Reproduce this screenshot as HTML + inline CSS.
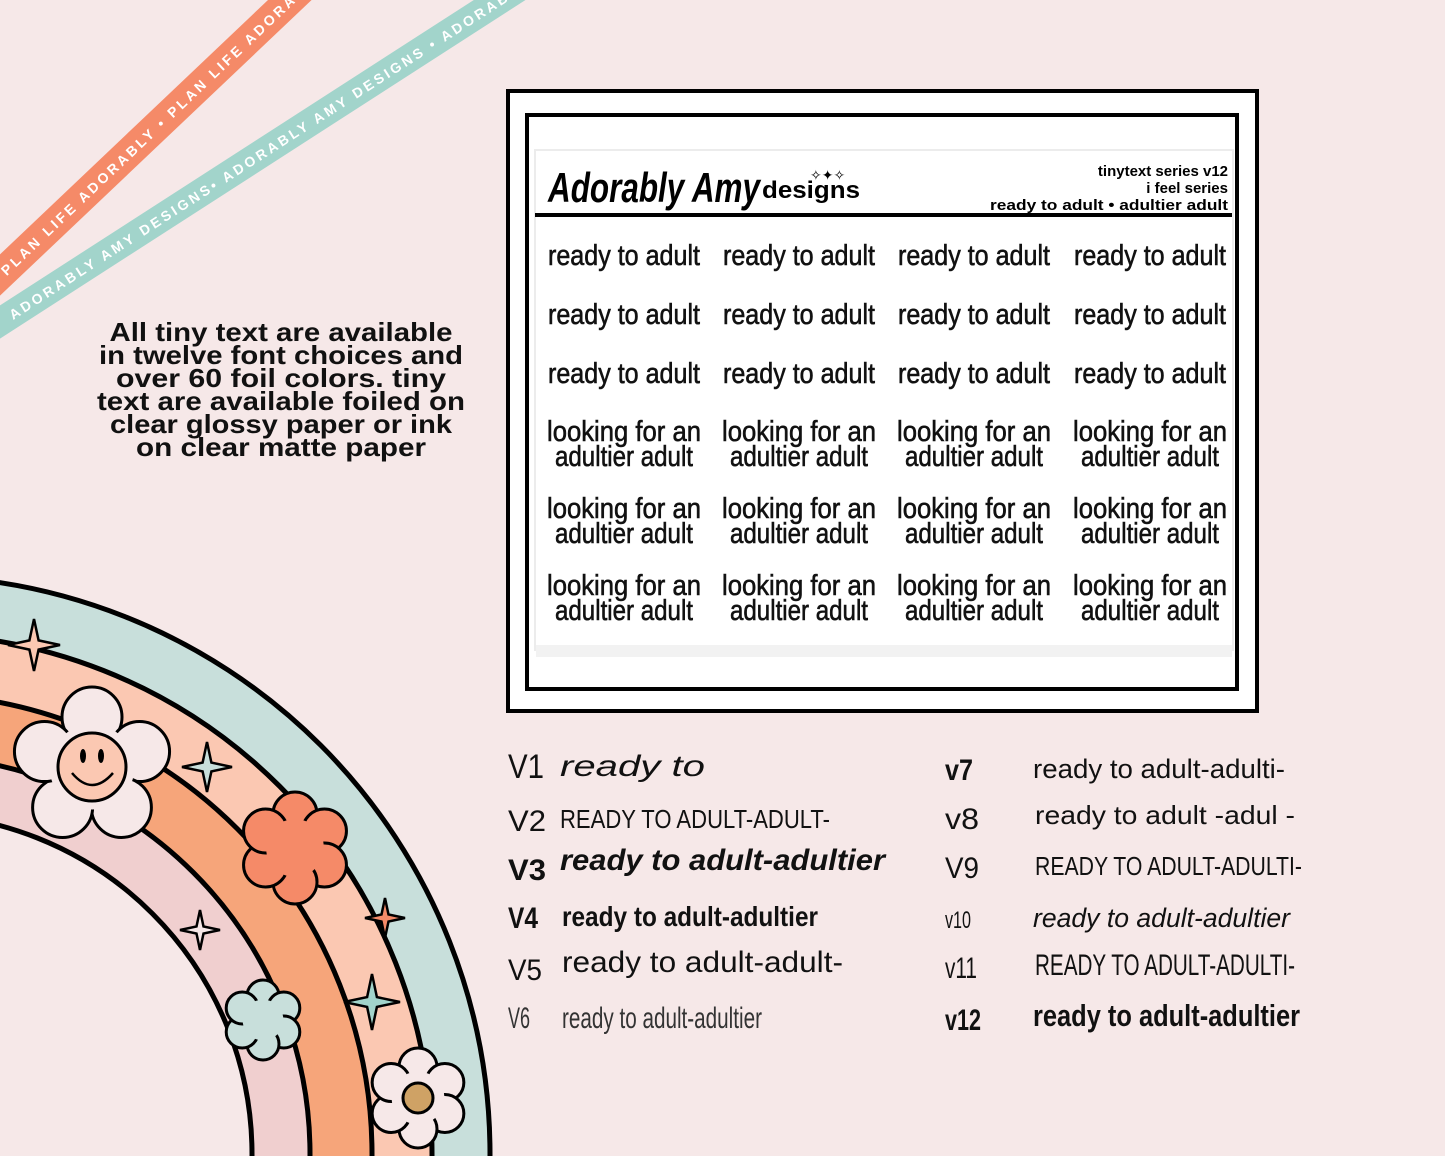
<!DOCTYPE html>
<html><head><meta charset="utf-8"><style>
html,body{margin:0;padding:0;background:#f6e8e8;width:1445px;height:1156px;overflow:hidden;}
svg{display:block;overflow:hidden;}
text{font-family:"Liberation Sans",sans-serif;}
</style></head><body>
<svg id="root" width="1445" height="1156" viewBox="0 0 1445 1156" xmlns="http://www.w3.org/2000/svg">
<defs><clipPath id="frame"><rect width="1445" height="1156"/></clipPath></defs>
<g clip-path="url(#frame)">
<rect width="1445" height="1156" fill="#f6e8e8"/>

<!-- ribbons -->
<g transform="translate(0,275) rotate(-43.5)">
  <rect x="-60" y="-15" width="520" height="30" fill="#f58a68"/>
  <text x="4" y="5.5" font-size="14" fill="#fff" letter-spacing="3" font-weight="bold">PLAN LIFE ADORABLY • PLAN LIFE ADORABLY • PLAN LIFE</text>
</g>
<g transform="translate(0,322) rotate(-32.8)">
  <rect x="-60" y="-14" width="720" height="28" fill="#a2d4cb"/>
  <text x="12" y="5.5" font-size="14" fill="#fff" letter-spacing="3" font-weight="bold">ADORABLY AMY DESIGNS• ADORABLY AMY DESIGNS • ADORABLY</text>
</g>

<!-- description paragraph -->
<g font-size="26" font-weight="bold" fill="#111" text-anchor="middle">
  <text x="281" y="341" textLength="343" lengthAdjust="spacingAndGlyphs">All tiny text are available</text>
  <text x="281" y="364" textLength="364" lengthAdjust="spacingAndGlyphs">in twelve font choices and</text>
  <text x="281" y="387" textLength="330" lengthAdjust="spacingAndGlyphs">over 60 foil colors.  tiny</text>
  <text x="281" y="410" textLength="368" lengthAdjust="spacingAndGlyphs">text are available foiled on</text>
  <text x="281" y="433" textLength="342" lengthAdjust="spacingAndGlyphs">clear glossy paper or ink</text>
  <text x="281" y="456" textLength="290" lengthAdjust="spacingAndGlyphs">on clear matte paper</text>
</g>

<!-- rainbow -->
<g stroke="#000" stroke-width="5">
  <circle cx="-88" cy="1154" r="578" fill="#c8dfdb"/>
  <circle cx="-88" cy="1154" r="520" fill="#fbc8b2"/>
  <circle cx="-88" cy="1154" r="460" fill="#f6a57a"/>
  <circle cx="-88" cy="1154" r="398" fill="#f0cfcf"/>
  <circle cx="-88" cy="1154" r="340" fill="#f6e8e8"/>
</g>
<g id="deco"></g>

<!-- product card -->
<g>
  <rect x="508" y="91" width="749" height="620" fill="#fff" stroke="#000" stroke-width="4"/>
  <rect x="527" y="115" width="710" height="574" fill="#fff" stroke="#000" stroke-width="4"/>
  <rect x="535" y="150" width="698" height="500" fill="#fff" stroke="#ececec" stroke-width="2"/>
  <rect x="536" y="645" width="696" height="12" fill="#f2f2f2"/>
  <text x="548" y="202" font-family="Liberation Serif,serif" font-style="italic" font-weight="bold" font-size="42" textLength="212" lengthAdjust="spacingAndGlyphs">Adorably Amy</text>
  <text x="762" y="198" font-size="24" font-weight="bold" textLength="98" lengthAdjust="spacingAndGlyphs">designs</text>
  <text x="810" y="180" font-size="14">✧✦✧</text>
  <g font-size="15" font-weight="bold" text-anchor="end">
    <text x="1228" y="176">tinytext series v12</text>
    <text x="1228" y="193">i feel series</text>
    <text x="1228" y="210" textLength="238" lengthAdjust="spacingAndGlyphs">ready to adult • adultier adult</text>
  </g>
  <rect x="535" y="213" width="697" height="4" fill="#000"/>
  <g id="grid" font-size="29" text-anchor="middle" fill="#111" stroke="#111" stroke-width="0.6"></g>
</g>

<!-- font list -->
<g fill="#111">
  <g font-size="30">
    <text x="508" y="778" font-size="34" textLength="36" lengthAdjust="spacingAndGlyphs">V1</text>
    <text x="560" y="776" font-family="Liberation Serif,serif" font-style="italic" textLength="145" lengthAdjust="spacingAndGlyphs">ready to</text>
    <text x="508" y="831" textLength="38" lengthAdjust="spacingAndGlyphs">V2</text>
    <text x="560" y="828" font-size="26" textLength="270" lengthAdjust="spacingAndGlyphs">READY TO ADULT-ADULT-</text>
    <text x="508" y="880" font-weight="bold" textLength="38" lengthAdjust="spacingAndGlyphs">V3</text>
    <text x="560" y="870" font-family="Liberation Serif,serif" font-style="italic" font-weight="bold" textLength="325" lengthAdjust="spacingAndGlyphs">ready to adult-adultier</text>
    <text x="508" y="928" font-weight="bold" textLength="30" lengthAdjust="spacingAndGlyphs">V4</text>
    <text x="562" y="926" font-weight="bold" font-size="28" textLength="256" lengthAdjust="spacingAndGlyphs">ready to adult-adultier</text>
    <text x="508" y="980" textLength="34" lengthAdjust="spacingAndGlyphs">V5</text>
    <text x="562" y="972" textLength="281" lengthAdjust="spacingAndGlyphs">ready to adult-adult-</text>
    <text x="508" y="1028" fill="#333" textLength="22" lengthAdjust="spacingAndGlyphs">V6</text>
    <text x="562" y="1028" fill="#333" textLength="200" lengthAdjust="spacingAndGlyphs">ready to adult-adultier</text>

    <text x="945" y="780" font-weight="bold" textLength="28" lengthAdjust="spacingAndGlyphs">v7</text>
    <text x="1033" y="778" font-size="27" textLength="252" lengthAdjust="spacingAndGlyphs">ready to adult-adulti-</text>
    <text x="945" y="829" textLength="34" lengthAdjust="spacingAndGlyphs">v8</text>
    <text x="1035" y="824" font-family="Liberation Serif,serif" font-size="26" textLength="260" lengthAdjust="spacingAndGlyphs">ready to adult -adul -</text>
    <text x="945" y="878" textLength="34" lengthAdjust="spacingAndGlyphs">V9</text>
    <text x="1035" y="875" font-size="26" textLength="267" lengthAdjust="spacingAndGlyphs">READY TO ADULT-ADULTI-</text>
    <text x="945" y="928" font-size="24" textLength="26" lengthAdjust="spacingAndGlyphs">v10</text>
    <text x="1033" y="927" font-family="Liberation Serif,serif" font-style="italic" font-size="27" textLength="257" lengthAdjust="spacingAndGlyphs">ready to adult-adultier</text>
    <text x="945" y="978" textLength="32" lengthAdjust="spacingAndGlyphs">v11</text>
    <text x="1035" y="975" textLength="260" lengthAdjust="spacingAndGlyphs">READY TO ADULT-ADULTI-</text>
    <text x="945" y="1030" font-weight="bold" textLength="36" lengthAdjust="spacingAndGlyphs">v12</text>
    <text x="1033" y="1026" font-weight="bold" font-size="31" textLength="267" lengthAdjust="spacingAndGlyphs">ready to adult-adultier</text>
  </g>
</g>
</g>
</svg>
<script>
const NS='http://www.w3.org/2000/svg';
const cols=[624,799,974,1150];
const singleRows=[265,324,383];
const doubleRows=[441,518,595];
const grid=document.getElementById('grid');
function t(x,y,s,w){const e=document.createElementNS(NS,'text');e.setAttribute('x',x);e.setAttribute('y',y);e.setAttribute('textLength',w);e.setAttribute('lengthAdjust','spacingAndGlyphs');e.textContent=s;return e;}
singleRows.forEach(y=>cols.forEach(x=>{const e=t(x,y,'ready to adult',152);


grid.appendChild(e);}));
doubleRows.forEach(y=>cols.forEach(x=>{const a=t(x,y,'looking for an',154);


grid.appendChild(a);const b=t(x,y+25,'adultier adult',138);


grid.appendChild(b);}));

const deco=document.getElementById('deco');
function flower(cx,cy,pr,pd,n,fill,cfill,cr,name){
  const g=document.createElementNS(NS,'g');
  
  
  for(let i=0;i<n;i++){const a=i*2*Math.PI/n-Math.PI/2;const c=document.createElementNS(NS,'circle');
    c.setAttribute('cx',cx+pd*Math.cos(a));c.setAttribute('cy',cy+pd*Math.sin(a));c.setAttribute('r',pr);
    c.setAttribute('fill',fill);c.setAttribute('stroke','#000');c.setAttribute('stroke-width','3');g.appendChild(c);}
  const m=document.createElementNS(NS,'circle');m.setAttribute('cx',cx);m.setAttribute('cy',cy);m.setAttribute('r',pd*0.85);m.setAttribute('fill',fill);g.appendChild(m);
  if(cfill){const c=document.createElementNS(NS,'circle');c.setAttribute('cx',cx);c.setAttribute('cy',cy);c.setAttribute('r',cr);c.setAttribute('fill',cfill);c.setAttribute('stroke','#000');c.setAttribute('stroke-width','3');g.appendChild(c);}
  deco.appendChild(g);return g;
}
function star(cx,cy,r,fill,name){
  const p=[];for(let i=0;i<8;i++){const a=i*Math.PI/4-Math.PI/2;const rr=i%2?r*0.25:r;p.push((cx+rr*Math.cos(a)).toFixed(1)+','+(cy+rr*Math.sin(a)).toFixed(1));}
  const e=document.createElementNS(NS,'polygon');e.setAttribute('points',p.join(' '));e.setAttribute('fill',fill);e.setAttribute('stroke','#000');e.setAttribute('stroke-width','2.5');
  
  
  deco.appendChild(e);
}
star(34,645,26,'#fbc8b2','sparkle-peach');
star(207,767,25,'#c8dfdb','sparkle-teal');
star(385,918,20,'#f58a68','sparkle-orange');
star(200,930,20,'#f6e8e8','sparkle-white');
star(372,1002,28,'#a2d4cb','sparkle-teal-2');
const sm=flower(92,767,30,50,5,'#f6e8e8','#fbc8b2',34,'smiley-flower');
sm.insertAdjacentHTML('beforeend','<ellipse cx="83" cy="756" rx="3" ry="7"/><ellipse cx="101" cy="756" rx="3" ry="7"/><path d="M72 773 Q92 797 113 773" fill="none" stroke="#000" stroke-width="2.5"/>');
flower(295,848,22,34,6,'#f58a68',null,0,'orange-flower');
flower(263,1020,16,24,6,'#c8dfdb',null,0,'teal-flower');
flower(418,1098,19,31,6,'#f6e8e8','#cfa265',15,'daisy-flower');
</script>
</body></html>
